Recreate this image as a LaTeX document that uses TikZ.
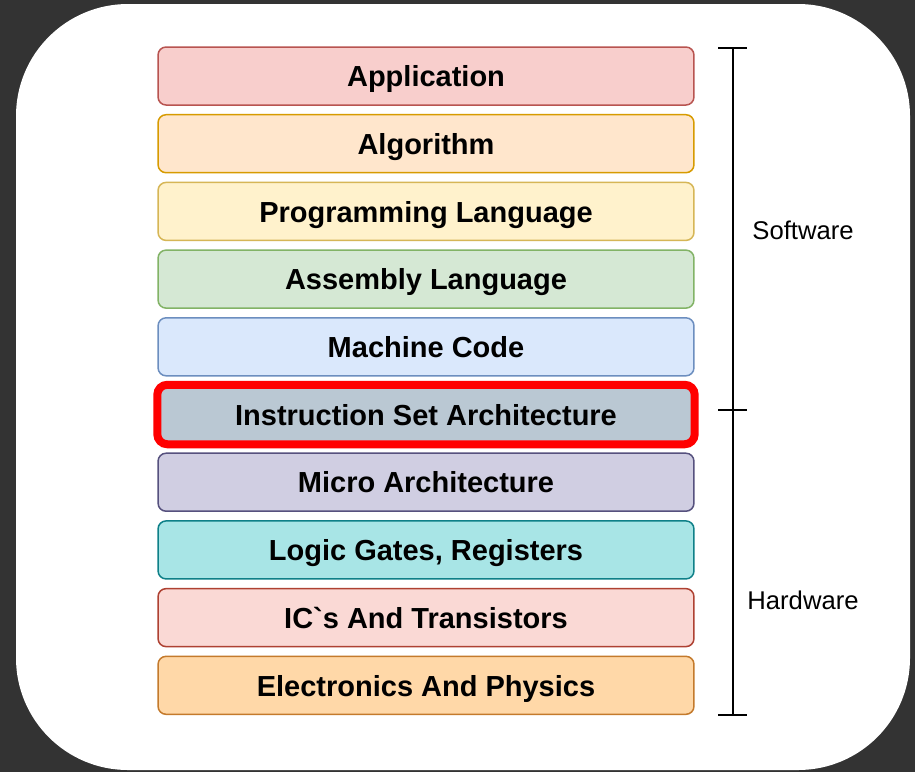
\documentclass[tikz,border=0pt]{standalone}
\usepackage{fontspec}
\newfontfamily\layerfont{Liberation Sans}
\usepackage{tikz}

\definecolor{bgdark}{HTML}{333333}
\definecolor{appfill}{HTML}{F8CECC}\definecolor{appdraw}{HTML}{B85450}
\definecolor{algfill}{HTML}{FFE6CC}\definecolor{algdraw}{HTML}{D79B00}
\definecolor{progfill}{HTML}{FFF2CC}\definecolor{progdraw}{HTML}{D6B656}
\definecolor{asmfill}{HTML}{D5E8D4}\definecolor{asmdraw}{HTML}{82B366}
\definecolor{mcfill}{HTML}{DAE8FC}\definecolor{mcdraw}{HTML}{6C8EBF}
\definecolor{isafill}{HTML}{BAC8D3}\definecolor{isadraw}{HTML}{FF0000}
\definecolor{microfill}{HTML}{D0CEE2}\definecolor{microdraw}{HTML}{56517E}
\definecolor{logicfill}{HTML}{A8E5E6}\definecolor{logicdraw}{HTML}{0E8088}
\definecolor{icfill}{HTML}{FAD9D5}\definecolor{icdraw}{HTML}{AE4132}
\definecolor{elecfill}{HTML}{FFD8A8}\definecolor{elecdraw}{HTML}{C47A2C}

\tikzset{
  layer/.style={rounded corners=0.16cm, line width=0.03cm, inner sep=0pt,
    minimum width=10.72cm, minimum height=1.16cm, text height=12.2pt, text depth=0pt,
    font=\layerfont\bfseries\fontsize{16.5}{20}\selectfont},
  side/.style={font=\layerfont\fontsize{14.6}{18}\selectfont, text height=10.6pt, text depth=0pt}
}

\begin{document}
\begin{tikzpicture}[x=0.02cm,y=-0.02cm]
    \useasboundingbox (0,0) rectangle (915,772);
    \fill[bgdark] (0,0) rectangle (915,772);
    \fill[white, rounded corners=2.24cm] (16,4) rectangle (910,770);
    % the stack
    \foreach \txt/\kind [count=\i] in {Application/app, Algorithm/alg,
      Programming Language/prog, Assembly Language/asm, Machine Code/mc,
      Instruction Set Architecture/isa, Micro Architecture/micro,
      {Logic Gates, Registers}/logic, IC\textasciigrave s And Transistors/ic,
      Electronics And Physics/elec}
    {
      \node[layer, fill=\kind fill, draw=\kind draw] (L\i) at (426,{76+67.7*(\i-1)}) {\txt};
    }
    \draw[isadraw, line width=0.16cm, rounded corners=0.2cm] (L6.north west) rectangle (L6.south east);
    % software / hardware bracket
    \coordinate (brtop) at (733,48);
    \coordinate (brmid) at (733,410);
    \coordinate (brbot) at (733,715);
    \draw[line width=0.03cm] (brtop) -- (brbot);
    \draw[line width=0.03cm] (718,48) -- (747,48) (718,410) -- (747,410) (718,715) -- (747,715);
    \node[side] (sw) at (803,230) {Software};
    \node[side] (hw) at (803,600) {Hardware};
\end{tikzpicture}
\end{document}
